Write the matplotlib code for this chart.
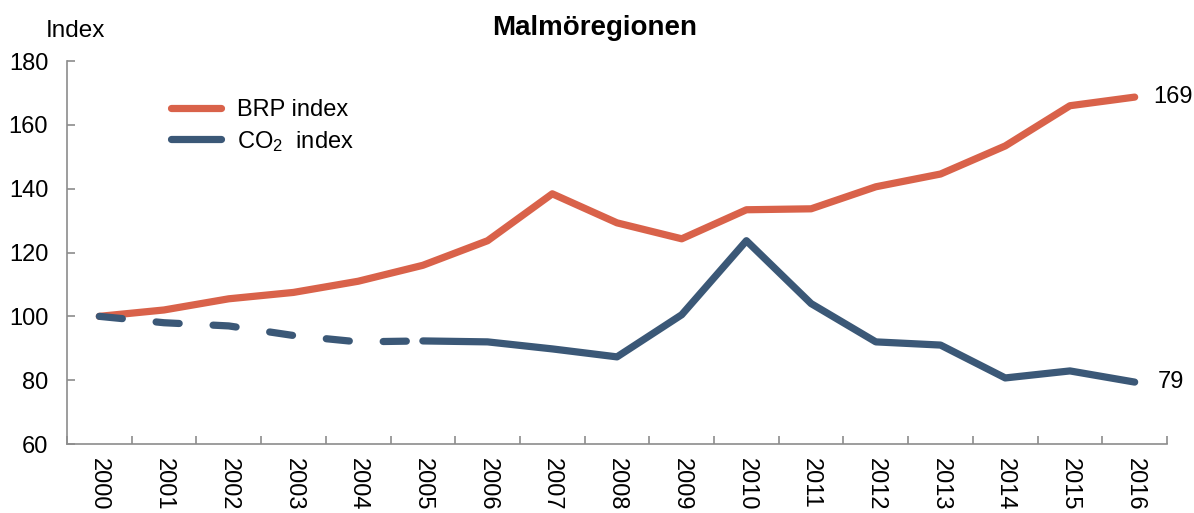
import matplotlib.pyplot as plt
import numpy as np

plt.rcParams['font.family'] = ['Liberation Sans', 'DejaVu Sans']
plt.rcParams['mathtext.fontset'] = 'custom'
plt.rcParams['mathtext.rm'] = 'Liberation Sans'
plt.rcParams['mathtext.it'] = 'Liberation Sans'

years = [str(y) for y in range(2000, 2017)]
brp_index = [100, 102, 105.5, 107.5, 111, 116, 123.7, 138.4, 129.3, 124.3,
             133.4, 133.7, 140.6, 144.6, 153.4, 166, 168.7]
co2_index = [100, 98, 97, 94, 92, 92.3, 92, 89.8, 87.3, 100.5,
             123.7, 104, 92, 91, 80.7, 82.9, 79.4]
dashed_until = 5  # CO2 estimated years 2000-2005 drawn dashed

orange = '#D9624A'
blue = '#3B5877'
gray = '#8C8C8C'

fig = plt.figure(figsize=(11.94, 5.13), dpi=100)
ax = fig.add_axes([0.0561, 0.1345, 0.9213, 0.7465])

x = np.arange(len(years))

ax.plot(x, brp_index, color=orange, lw=5.2, solid_capstyle='round', label='BRP index')
ax.plot(x[:dashed_until + 1], co2_index[:dashed_until + 1], color=blue, lw=5.2,
        dashes=(3.2, 4.7), dash_capstyle='round')
ax.plot(x[dashed_until:], co2_index[dashed_until:], color=blue, lw=5.2,
        solid_capstyle='round', label=r'CO$_2$  index')

ax.set_xlim(-0.5, len(years) - 0.5)
ax.set_ylim(60, 180)
ax.set_yticks(range(60, 181, 20))
ax.set_xticks(x)
ax.set_xticklabels(years, rotation=270)
ax.set_xticks(np.arange(-0.5, len(years)), minor=True)

for s in ['top', 'right']:
    ax.spines[s].set_visible(False)
for s in ['left', 'bottom']:
    ax.spines[s].set_color(gray)
    ax.spines[s].set_linewidth(1.2)

ax.tick_params(axis='y', direction='in', length=6, color=gray, width=1.2,
               labelsize=17, pad=13.5)
ax.tick_params(axis='x', which='major', length=0, labelsize=17, pad=10)
ax.tick_params(axis='x', which='minor', direction='in', length=6, color=gray, width=1.2)

ax.text(x[-1] + 0.29, brp_index[-1], '169', fontsize=17, va='center', ha='left')
ax.text(x[-1] + 0.36, co2_index[-1], '79', fontsize=17, va='center', ha='left')

fig.text(0.038, 0.94, 'Index', fontsize=17.5, va='center', ha='left')
fig.text(0.498, 0.945, 'Malmöregionen', fontsize=20, fontweight='bold',
         va='center', ha='center')

ax.legend(loc='upper left', bbox_to_anchor=(0.075, 0.956), frameon=False,
          fontsize=17, handlelength=2.15, handletextpad=0.64, labelspacing=0.32)

fig.savefig('out.png', dpi=100)
